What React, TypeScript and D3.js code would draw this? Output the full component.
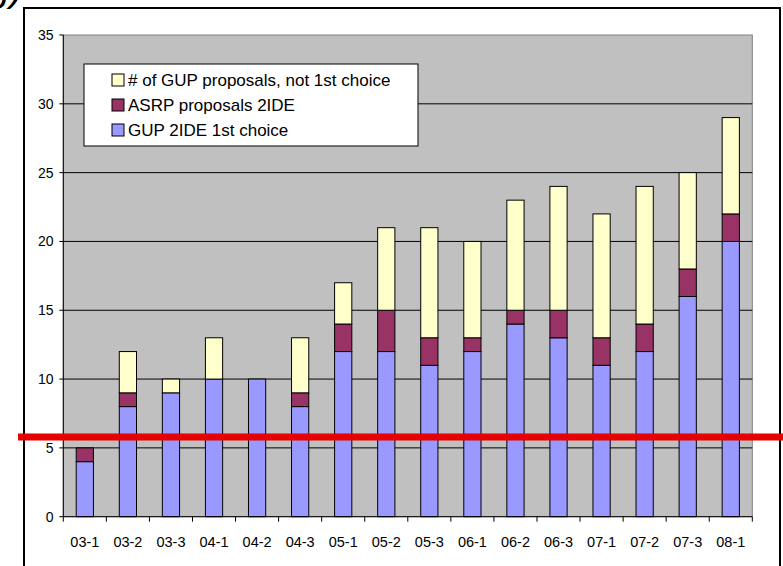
import React from "react";
import * as d3 from "d3";

const categories = ["03-1","03-2","03-3","04-1","04-2","04-3","05-1","05-2","05-3","06-1","06-2","06-3","07-1","07-2","07-3","08-1"];
const gup1st = [4, 8, 9, 10, 10, 8, 12, 12, 11, 12, 14, 13, 11, 12, 16, 20];
const asrp = [1, 1, 0, 0, 0, 1, 2, 3, 2, 1, 1, 2, 2, 2, 2, 2];
const gupNot1st = [0, 3, 1, 3, 0, 4, 3, 6, 8, 7, 8, 9, 9, 10, 7, 7];
const yTicks = [0, 5, 10, 15, 20, 25, 30, 35];
const seriesKeys = ["gup1st", "asrp", "gupNot1st"];
const seriesColors = ["#9999ff", "#993366", "#ffffcc"];
const legendLabels = ["# of GUP proposals, not 1st choice", "ASRP proposals 2IDE", "GUP 2IDE 1st choice"];
const legendColors = ["#ffffcc", "#993366", "#9999ff"];
const thresholdValue = 5.8;

export default function App() {
  const W = 783, H = 566;
  const left = 63.3, right = 752.3, top = 35, bottom = 516.7;
  const x = d3.scaleBand<string>().domain(categories).range([left, right]).padding(0);
  const y = d3.scaleLinear().domain([0, 35]).range([bottom, top]);
  const rows = categories.map((c, i) => ({ cat: c, gup1st: gup1st[i], asrp: asrp[i], gupNot1st: gupNot1st[i] }));
  const stacked = d3.stack<any>().keys(seriesKeys)(rows);
  const bw = x.bandwidth() * 0.4;
  const font = "Arial, 'Liberation Sans', sans-serif";
  const boundaries = d3.range(categories.length + 1).map((i) => left + i * x.step());

  return (
    <svg width={W} height={H} style={{ position: "absolute", left: 0, top: 0, background: "#fff" }}>
      <text x={-12} y={1} fontFamily={font} fontSize={40} fontStyle="italic" fill="#000">g)</text>
      <rect x={24} y={8} width={756} height={600} fill="#fff" stroke="#000" strokeWidth={2} />
      <rect x={left} y={top} width={right - left} height={bottom - top} fill="#c0c0c0" stroke="#808080" strokeWidth={1} />
      {yTicks.filter((t) => t > 0 && t < 35).map((t) => (
        <line key={"g" + t} x1={left} x2={right} y1={y(t)} y2={y(t)} stroke="#000" strokeWidth={1} />
      ))}
      {stacked.map((s, si) => (
        <g key={si}>
          {s.map((d: any, i: number) => {
            const h = y(d[0]) - y(d[1]);
            if (h <= 0) return null;
            const cx = (x(categories[i]) as number) + x.bandwidth() / 2;
            return <rect key={i} x={cx - bw / 2} y={y(d[1])} width={bw} height={h} fill={seriesColors[si]} stroke="#000" strokeWidth={1} />;
          })}
        </g>
      ))}
      <line x1={left} x2={left} y1={top} y2={bottom} stroke="#000" strokeWidth={1} />
      <line x1={left} x2={right} y1={bottom} y2={bottom} stroke="#000" strokeWidth={1} />
      {yTicks.map((t) => (
        <g key={"t" + t}>
          <line x1={left - 4} x2={left} y1={y(t)} y2={y(t)} stroke="#000" />
          <text x={53.5} y={y(t)} dy="0.35em" textAnchor="end" fontFamily={font} fontSize={14} fill="#000">{t}</text>
        </g>
      ))}
      {boundaries.map((bx, i) => (
        <line key={"b" + i} x1={bx} x2={bx} y1={bottom} y2={bottom + 5} stroke="#000" />
      ))}
      {categories.map((c) => (
        <text key={c} x={(x(c) as number) + x.bandwidth() / 2} y={547} textAnchor="middle" fontFamily={font} fontSize={14.5} fill="#000">{c}</text>
      ))}
      <rect x={84} y={64} width={334} height={82} fill="#fff" stroke="#000" strokeWidth={1} />
      {legendLabels.map((l, i) => (
        <g key={l}>
          <rect x={112} y={80 + i * 25 - 6} width={12} height={12} fill={legendColors[i]} stroke="#000" strokeWidth={1} />
          <text x={128} y={80 + i * 25} dy="0.36em" fontFamily={font} fontSize={17} fill="#000">{l}</text>
        </g>
      ))}
      <line x1={18} x2={783} y1={y(thresholdValue)} y2={y(thresholdValue)} stroke="#e60000" strokeWidth={7} />
    </svg>
  );
}
